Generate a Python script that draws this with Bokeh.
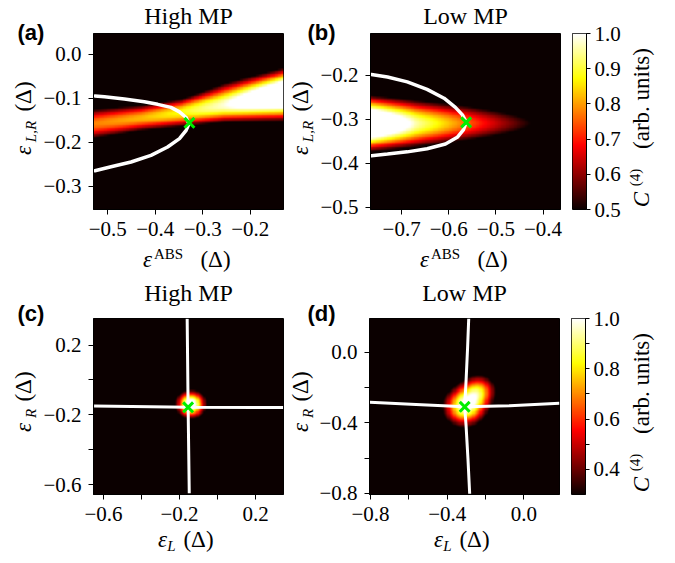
import numpy as np
from bokeh.plotting import figure
from bokeh.models import (Range1d, FixedTicker, CustomJSTickFormatter, LinearColorMapper,
                          ColumnDataSource, GridBox)
from bokeh.core.properties import value
from bokeh.layouts import column, row
from bokeh.embed import file_html
from bokeh.resources import INLINE

# ---------------- data ----------------
# (a) High MP: band profile samples (column position, centre, peak, widths above / below)
a_x_samples = [-0.53, -0.43, -0.346, -0.255, -0.13]
a_center = [-0.158, -0.145, -0.132, -0.1165, -0.0915]
a_peak = [0.78, 0.82, 0.88, 0.98, 1.25]
a_width_up = [0.049, 0.041, 0.040, 0.061, 0.064]
a_width_dn = [0.049, 0.041, 0.044, 0.047, 0.064]
a_curve_up_x = [-0.527, -0.507, -0.465, -0.423, -0.395, -0.367, -0.349, -0.335, -0.329]
a_curve_up_y = [-0.095, -0.097, -0.102, -0.108, -0.114, -0.121, -0.131, -0.144, -0.158]
a_curve_dn_x = [-0.329, -0.335, -0.349, -0.374, -0.409, -0.451, -0.493, -0.527]
a_curve_dn_y = [-0.158, -0.173, -0.192, -0.211, -0.230, -0.245, -0.256, -0.265]
a_cross = (-0.328, -0.156)

# (b) Low MP: lobe profile samples
b_x_samples = [-0.766, -0.667, -0.563, -0.424, -0.36]
b_center = [-0.310, -0.310, -0.309, -0.309, -0.309]
b_peak = [1.25, 0.95, 0.76, 0.50, 0.40]
b_width = [0.068, 0.066, 0.060, 0.050, 0.050]
b_curve_up_x = [-0.764, -0.730, -0.688, -0.646, -0.610, -0.586, -0.571, -0.563]
b_curve_up_y = [-0.198, -0.204, -0.215, -0.232, -0.252, -0.273, -0.290, -0.307]
b_curve_dn_x = [-0.563, -0.569, -0.582, -0.607, -0.646, -0.688, -0.730, -0.764]
b_curve_dn_y = [-0.307, -0.324, -0.341, -0.356, -0.367, -0.374, -0.379, -0.383]
b_cross = (-0.563, -0.307)

# (c) High MP: blob and resonance lines
c_blob_x = [-0.14]
c_blob_y = [-0.14]
c_blob_peak = [1.10]
c_blob_width = [0.075]
c_vline_x = [-0.160, -0.155, -0.149]
c_vline_y = [0.350, -0.157, -0.650]
c_hline_x = [-0.650, -0.155, 0.345]
c_hline_y = [-0.149, -0.157, -0.158]
c_cross = (-0.155, -0.157)

# (d) Low MP: blob and resonance lines
d_blob_x = [-0.31, -0.23]
d_blob_y = [-0.31, -0.21]
d_blob_peak = [0.95, 0.60]
d_blob_width = [0.110, 0.090]
d_vline_x = [-0.288, -0.294, -0.302, -0.309, -0.302, -0.292, -0.283]
d_vline_y = [0.193, 0.025, -0.166, -0.309, -0.413, -0.603, -0.803]
d_hline_x = [-0.803, -0.562, -0.309, -0.074, 0.185]
d_hline_y = [-0.283, -0.295, -0.309, -0.303, -0.289]
d_cross = (-0.309, -0.309)

# axes ranges and ticks
a_xr, a_yr = (-0.53, -0.13), (-0.353, 0.047)
b_xr, b_yr = (-0.766, -0.363), (-0.505, -0.105)
c_xr, c_yr = (-0.653, 0.347), (-0.657, 0.352)
d_xr, d_yr = (-0.805, 0.185), (-0.807, 0.193)
a_xticks, a_yticks = [-0.5, -0.4, -0.3, -0.2], [0.0, -0.1, -0.2, -0.3]
b_xticks, b_yticks = [-0.7, -0.6, -0.5, -0.4], [-0.2, -0.3, -0.4, -0.5]
c_xticks, c_xminor = [-0.6, -0.2, 0.2], [-0.4, 0.0]
c_yticks, c_yminor = [0.2, -0.2, -0.6], [0.0, -0.4]
d_xticks, d_xminor = [-0.8, -0.4, 0.0], [-0.6, -0.2]
d_yticks, d_yminor = [0.0, -0.4, -0.8], [-0.2, -0.6]
cb_top_range, cb_top_ticks = (0.5, 1.0), [0.5, 0.6, 0.7, 0.8, 0.9, 1.0]
cb_bot_range, cb_bot_ticks, cb_bot_minor = (0.3, 1.0), [0.4, 0.6, 0.8, 1.0], [0.5, 0.7, 0.9]

# texts
titles = ["High MP", "Low MP", "High MP", "Low MP"]
panel_tags = ["(a)", "(b)", "(c)", "(d)"]

SERIF = "Liberation Serif"
SANS = "Liberation Sans"
W, H = 675, 563


def hot_palette(n=256):
    t = np.linspace(0, 1, n)
    r = np.interp(t, [0, 0.365079, 1], [0.0416, 1, 1])
    g = np.interp(t, [0, 0.365079, 0.746032, 1], [0, 0, 1, 1])
    b = np.interp(t, [0, 0.746032, 1], [0, 0, 1])
    return ["#%02x%02x%02x" % (int(round(255 * ri)), int(round(255 * gi)), int(round(255 * bi)))
            for ri, gi, bi in zip(r, g, b)]


HOT = hot_palette()
map_top = LinearColorMapper(palette=HOT, low=cb_top_range[0], high=cb_top_range[1])
map_bot = LinearColorMapper(palette=HOT, low=cb_bot_range[0], high=cb_bot_range[1])

fmt = CustomJSTickFormatter(code="return (tick < -1e-9 ? '\u2212' : '') + Math.abs(tick).toFixed(1);")


def grid(xr, yr, n=120):
    xs = np.linspace(xr[0], xr[1], n)
    ys = np.linspace(yr[0], yr[1], n)
    return np.meshgrid(xs, ys)


def field_band(xr, yr, xs, cen, peak, wup, wdn):
    X, Y = grid(xr, yr)
    C = np.interp(X, xs, cen)
    P = np.interp(X, xs, peak)
    WU = np.interp(X, xs, wup)
    WD = np.interp(X, xs, wdn)
    Wd = np.where(Y > C, WU, WD)
    return P * np.exp(-((Y - C) / Wd) ** 2)


def field_blobs(xr, yr, bx, by, bp, bw):
    X, Y = grid(xr, yr, 160)
    Z = np.zeros_like(X)
    for x0, y0, p0, w0 in zip(bx, by, bp, bw):
        Z += p0 * np.exp(-((X - x0) ** 2 + (Y - y0) ** 2) / w0 ** 2)
    return Z


def make_fig(width, height, left, right, top, bottom, xr, yr):
    p = figure(width=width, height=height, x_range=Range1d(*xr), y_range=Range1d(*yr),
               toolbar_location=None, output_backend="svg",
               min_border_left=left, min_border_right=right, min_border_top=top, min_border_bottom=bottom)
    p.grid.visible = False
    p.title.visible = False
    p.outline_line_color = "black"
    p.outline_line_width = 1
    p.background_fill_color = "white"
    p.border_fill_color = "white"
    return p


def style_axis(ax, ticks, minor=None, standoff=7, tick_out=5):
    ax.ticker = FixedTicker(ticks=ticks, minor_ticks=minor or [])
    ax.formatter = fmt
    ax.major_label_text_font = SERIF
    ax.major_label_text_font_size = "21px"
    ax.major_label_text_color = "black"
    ax.major_tick_out = tick_out
    ax.major_tick_in = 0
    ax.minor_tick_out = tick_out
    ax.minor_tick_in = 0
    ax.major_tick_line_color = "black"
    ax.minor_tick_line_color = "black"
    ax.axis_line_color = "black"
    ax.major_label_standoff = standoff


def draw_image(p, z, xr, yr, mapper):
    p.image(image=[z], x=xr[0], y=yr[0], dw=xr[1] - xr[0], dh=yr[1] - yr[0], color_mapper=mapper)


def draw_cross(p, c):
    p.scatter([c[0]], [c[1]], marker="x", size=14, line_color="#00ee00", line_width=3)


# ---------------- panel (a) ----------------
fa = make_fig(285, 280, 93, 2, 33, 71, a_xr, a_yr)
draw_image(fa, field_band(a_xr, a_yr, a_x_samples, a_center, a_peak, a_width_up, a_width_dn), a_xr, a_yr, map_top)
fa.line(a_curve_up_x, a_curve_up_y, line_color="white", line_width=3.5, line_cap="round")
fa.line(a_curve_dn_x, a_curve_dn_y, line_color="white", line_width=3.5, line_cap="round")
draw_cross(fa, a_cross)
style_axis(fa.xaxis[0], a_xticks)
style_axis(fa.yaxis[0], a_yticks)

# ---------------- panel (b) ----------------
fb = make_fig(287, 280, 85, 12, 33, 71, b_xr, b_yr)
draw_image(fb, field_band(b_xr, b_yr, b_x_samples, b_center, b_peak, b_width, b_width), b_xr, b_yr, map_top)
fb.line(b_curve_up_x, b_curve_up_y, line_color="white", line_width=3.5, line_cap="round")
fb.line(b_curve_dn_x, b_curve_dn_y, line_color="white", line_width=3.5, line_cap="round")
draw_cross(fb, b_cross)
style_axis(fb.xaxis[0], b_xticks)
style_axis(fb.yaxis[0], b_yticks)


# ---------------- colour bars ----------------
def make_cbar(width, height, top, bottom, rng, mapper, ticks, minor):
    p = figure(width=width, height=height, x_range=Range1d(0, 1), y_range=Range1d(*rng),
               toolbar_location=None, output_backend="svg", x_axis_location=None, y_axis_location="right",
               min_border_left=0, min_border_right=width - 14, min_border_top=top, min_border_bottom=bottom)
    p.grid.visible = False
    p.title.visible = False
    p.outline_line_color = "black"
    p.outline_line_width = 1
    grad = np.linspace(rng[0], rng[1], 256).reshape(256, 1)
    p.image(image=[grad], x=0, y=rng[0], dw=1, dh=rng[1] - rng[0], color_mapper=mapper)
    style_axis(p.yaxis[0], ticks, minor, standoff=4, tick_out=4)
    return p


cb1 = make_cbar(103, 280, 33, 71, cb_top_range, map_top, cb_top_ticks, None)

# ---------------- panel (c) ----------------
fc = make_fig(285, 283, 93, 2, 38, 69, c_xr, c_yr)
draw_image(fc, field_blobs(c_xr, c_yr, c_blob_x, c_blob_y, c_blob_peak, c_blob_width), c_xr, c_yr, map_bot)
fc.line(c_vline_x, c_vline_y, line_color="white", line_width=3)
fc.line(c_hline_x, c_hline_y, line_color="white", line_width=3)
draw_cross(fc, c_cross)
style_axis(fc.xaxis[0], c_xticks, c_xminor)
style_axis(fc.yaxis[0], c_yticks, c_yminor)

# ---------------- panel (d) ----------------
fd = make_fig(286, 283, 84, 12, 38, 69, d_xr, d_yr)
draw_image(fd, field_blobs(d_xr, d_yr, d_blob_x, d_blob_y, d_blob_peak, d_blob_width), d_xr, d_yr, map_bot)
fd.line(d_vline_x, d_vline_y, line_color="white", line_width=3)
fd.line(d_hline_x, d_hline_y, line_color="white", line_width=3)
draw_cross(fd, d_cross)
style_axis(fd.xaxis[0], d_xticks, d_xminor)
style_axis(fd.yaxis[0], d_yticks, d_yminor)

cb2 = make_cbar(104, 283, 38, 69, cb_bot_range, map_bot, cb_bot_ticks, cb_bot_minor)

main = column(row(fa, fb, cb1), row(fc, fd, cb2))

# ---------------- text overlay (titles, panel tags, composed axis labels) ----------------
R = np.pi / 2
SHIFT = 0.35  # renderer places the alphabetic baseline this fraction of the size lower
T = []  # (text, X, Y, size, style, font, align, angle)


def add(text, X, Y, size, style="normal", font=SERIF, align="center", angle=0.0):
    if angle == 0.0:
        Y = Y - SHIFT * size
    else:
        X = X - SHIFT * size
    T.append((text, X, Y, size, style, font, align, angle))


for (tx, ty, ttl, tag, tgx, tgy) in [(188, 24, titles[0], panel_tags[0], 17, 40),
                                     (465, 24, titles[1], panel_tags[1], 307, 40),
                                     (188, 301, titles[2], panel_tags[2], 17, 321),
                                     (464, 301, titles[3], panel_tags[3], 307, 321)]:
    add(ttl, tx, ty, 24)
    add(tag, tgx, tgy, 22, "bold", SANS, "left")

# x labels: epsilon^ABS (Delta)
for cx in (188, 465):
    add("ε", cx - 41, 267, 23, "italic")
    add("ABS", cx - 20, 259, 15)
    add("(Δ)", cx + 27, 267, 23)
# x labels: epsilon_L (Delta)
for cx in (188, 464):
    add("ε", cx - 26, 547, 23, "italic")
    add("L", cx - 17, 551, 15, "italic")
    add("(Δ)", cx + 10, 547, 23)
# y labels
for bx in (31, 308):
    add("ε", bx, 150, 23, "italic", angle=R)
    add("L,R", bx + 5, 131, 15, "italic", angle=R)
    add("(Δ)", bx, 96, 23, angle=R)
    add("ε", bx, 427, 23, "italic", angle=R)
    add("R", bx + 5, 413, 15, "italic", angle=R)
    add("(Δ)", bx, 386, 23, angle=R)
# colour bar labels
for cy in (121, 406):
    add("C", 649, cy + 78, 23, "italic", angle=R)
    add("(4)", 640, cy + 56, 15, angle=R)
    add("(arb. units)", 649, cy - 23, 23, angle=R)

src = ColumnDataSource(dict(
    text=[t[0] for t in T], x=[t[1] for t in T], y=[H - t[2] for t in T],
    size=["%dpx" % t[3] for t in T], style=[t[4] for t in T], font=[t[5] for t in T],
    align=[t[6] for t in T], angle=[t[7] for t in T]))

ov = figure(width=W, height=H, x_range=Range1d(0, W), y_range=Range1d(0, H), toolbar_location=None,
            output_backend="svg", x_axis_location=None, y_axis_location=None, min_border=0,
            min_border_left=0, min_border_right=0, min_border_top=0, min_border_bottom=0)
ov.title.visible = False
ov.grid.visible = False
ov.outline_line_color = None
ov.background_fill_color = None
ov.border_fill_color = None
ov.text(x="x", y="y", text="text", source=src, text_font="font", text_font_size="size",
        text_font_style="style", text_align="align", angle="angle",
        text_baseline=value("alphabetic"), text_color="black")

root = GridBox(children=[(main, 0, 0), (ov, 0, 0)])
open("out.html", "w").write(file_html(root, INLINE))
